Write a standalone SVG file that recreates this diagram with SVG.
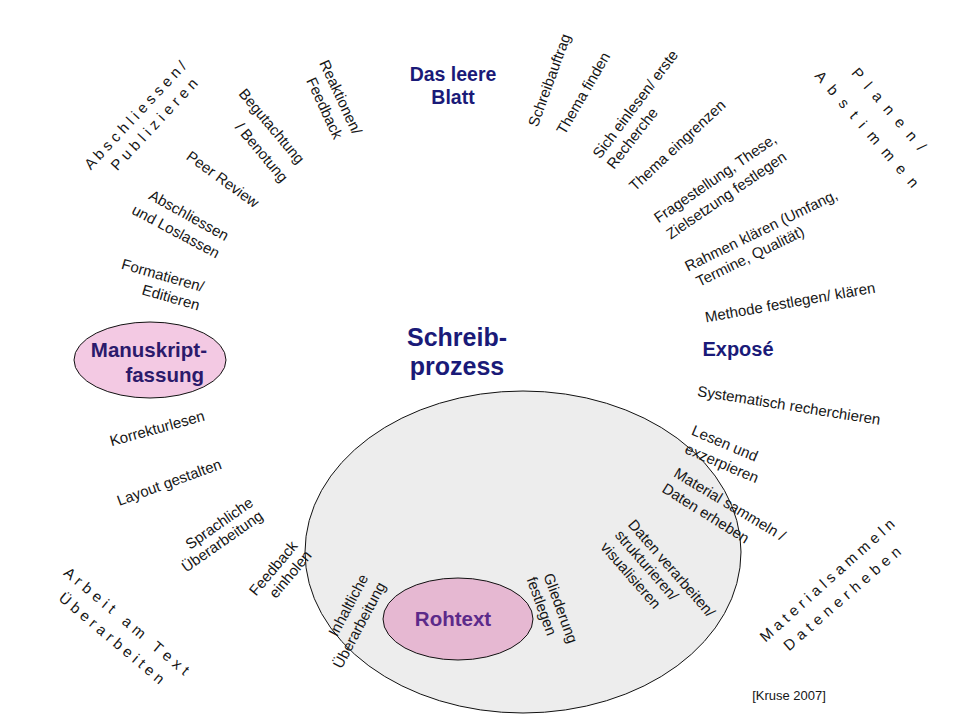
<svg xmlns="http://www.w3.org/2000/svg" width="960" height="720" viewBox="0 0 960 720">
<style>
.t{font-family:"Liberation Sans",Arial,sans-serif;font-size:15px;fill:#161616;text-anchor:middle;dominant-baseline:central}
.h{font-family:"Liberation Sans",Arial,sans-serif;font-weight:bold;fill:#1a1a78;text-anchor:middle}
.ring{fill:#ededed;stroke:#111;stroke-width:1}
.pink{stroke:#111;stroke-width:1}
</style>
<rect width="960" height="720" fill="#fff"/>
<g id="schreibprozess-bereich">
<ellipse class="ring" cx="523" cy="552" rx="218" ry="161"/>
</g>
<g id="connectors"/>
<g id="das-leere-blatt">
<text class="h" x="453" y="81" font-size="19.5">Das leere</text>
<text class="h" x="453" y="104" font-size="19.5">Blatt</text>
</g>
<g id="schreibprozess">
<text class="h" x="457" y="346" font-size="25">Schreib-</text>
<text class="h" x="457" y="375" font-size="25">prozess</text>
</g>
<g id="expose">
<text class="h" x="738" y="356" font-size="20">Exposé</text>
</g>
<g id="manuskriptfassung">
<ellipse class="pink" cx="150" cy="360" rx="76" ry="38" fill="#f3c9e3"/>
<text class="h" x="207" y="357" font-size="20.5" style="fill:#2b1a6b;text-anchor:end">Manuskript-</text>
<text class="h" x="204" y="382" font-size="20.5" style="fill:#2b1a6b;text-anchor:end">fassung</text>
</g>
<g id="rohtext">
<ellipse class="pink" cx="458" cy="619" rx="75" ry="41" fill="#e6b8d2"/>
<text class="h" x="453" y="626" font-size="20.5" style="fill:#5c2a8a">Rohtext</text>
</g>
<g id="labels">
<text class="t" transform="translate(135,115) rotate(-47)">A b s c h l i e s s e n /</text>
<text class="t" transform="translate(154,124) rotate(-47)" letter-spacing="0.2">P u b l i z i e r e n</text>
<text class="t" transform="translate(341,97) rotate(65)">Reaktionen/</text>
<text class="t" transform="translate(325,108) rotate(65)">Feedback</text>
<text class="t" transform="translate(272,126) rotate(50)">Begutachtung</text>
<text class="t" transform="translate(262,152) rotate(50)">/ Benotung</text>
<text class="t" transform="translate(223,179) rotate(36)">Peer Review</text>
<text class="t" transform="translate(189,215) rotate(29)">Abschliessen</text>
<text class="t" transform="translate(176,231) rotate(28)">und Loslassen</text>
<text class="t" transform="translate(163,275) rotate(16)">Formatieren/</text>
<text class="t" transform="translate(171,297) rotate(16)">Editieren</text>
<text class="t" transform="translate(549,80) rotate(-70)">Schreibauftrag</text>
<text class="t" transform="translate(583,93) rotate(-60)">Thema finden</text>
<text class="t" transform="translate(635,104) rotate(-53)">Sich einlesen/ erste</text>
<text class="t" transform="translate(632,138) rotate(-52)">Recherche</text>
<text class="t" transform="translate(677,145) rotate(-43)">Thema eingrenzen</text>
<text class="t" transform="translate(715,178) rotate(-34.5)">Fragestellung, These,</text>
<text class="t" transform="translate(726,195) rotate(-34.5)">Zielsetzung festlegen</text>
<text class="t" transform="translate(761,230) rotate(-26)">Rahmen klären (Umfang,</text>
<text class="t" transform="translate(750,256) rotate(-26)">Termine, Qualität)</text>
<text class="t" transform="translate(790,302) rotate(-10)">Methode festlegen/ klären</text>
<text class="t" transform="translate(890,110) rotate(49)" letter-spacing="2.4">P l a n e n /</text>
<text class="t" transform="translate(868,130) rotate(49)" letter-spacing="2.6">A b s t i m m e n</text>
<text class="t" transform="translate(789,405) rotate(9)">Systematisch recherchieren</text>
<text class="t" transform="translate(725,443) rotate(23)">Lesen und</text>
<text class="t" transform="translate(722,463) rotate(23)">exzerpieren</text>
<text class="t" transform="translate(730,504) rotate(31)">Material sammeln /</text>
<text class="t" transform="translate(706,513) rotate(32)">Daten erheben</text>
<text class="t" transform="translate(672,568) rotate(49)">Daten verarbeiten/</text>
<text class="t" transform="translate(647,565) rotate(49)">strukturieren/</text>
<text class="t" transform="translate(631,575) rotate(49)">visualisieren</text>
<text class="t" transform="translate(561,608) rotate(70)">Gliederung</text>
<text class="t" transform="translate(542,606) rotate(70)">festlegen</text>
<text class="t" transform="translate(827,580) rotate(-42)" letter-spacing="0.1">M a t e r i a l s a m m e l n</text>
<text class="t" transform="translate(842,598) rotate(-41)" letter-spacing="0.4">D a t e n e r h e b e n</text>
<text class="t" x="789" y="695" style="font-size:13px">[Kruse 2007]</text>
<text class="t" transform="translate(157,428) rotate(-15.5)">Korrekturlesen</text>
<text class="t" transform="translate(169,482) rotate(-20)">Layout gestalten</text>
<text class="t" transform="translate(219,523) rotate(-35)">Sprachliche</text>
<text class="t" transform="translate(222,541) rotate(-35)">Überarbeitung</text>
<text class="t" transform="translate(273,568) rotate(-50)">Feedback</text>
<text class="t" transform="translate(290,574) rotate(-50)">einholen</text>
<text class="t" transform="translate(127,621) rotate(40)" letter-spacing="0.3" xml:space="preserve">A r b e i t   a m   T e x t</text>
<text class="t" transform="translate(112,638) rotate(40)">Ü b e r a r b e i t e n</text>
<text class="t" transform="translate(348,605) rotate(-62)">Inhaltliche</text>
<text class="t" transform="translate(359,625) rotate(-62)">Überarbeitung</text>
</g>
</svg>
